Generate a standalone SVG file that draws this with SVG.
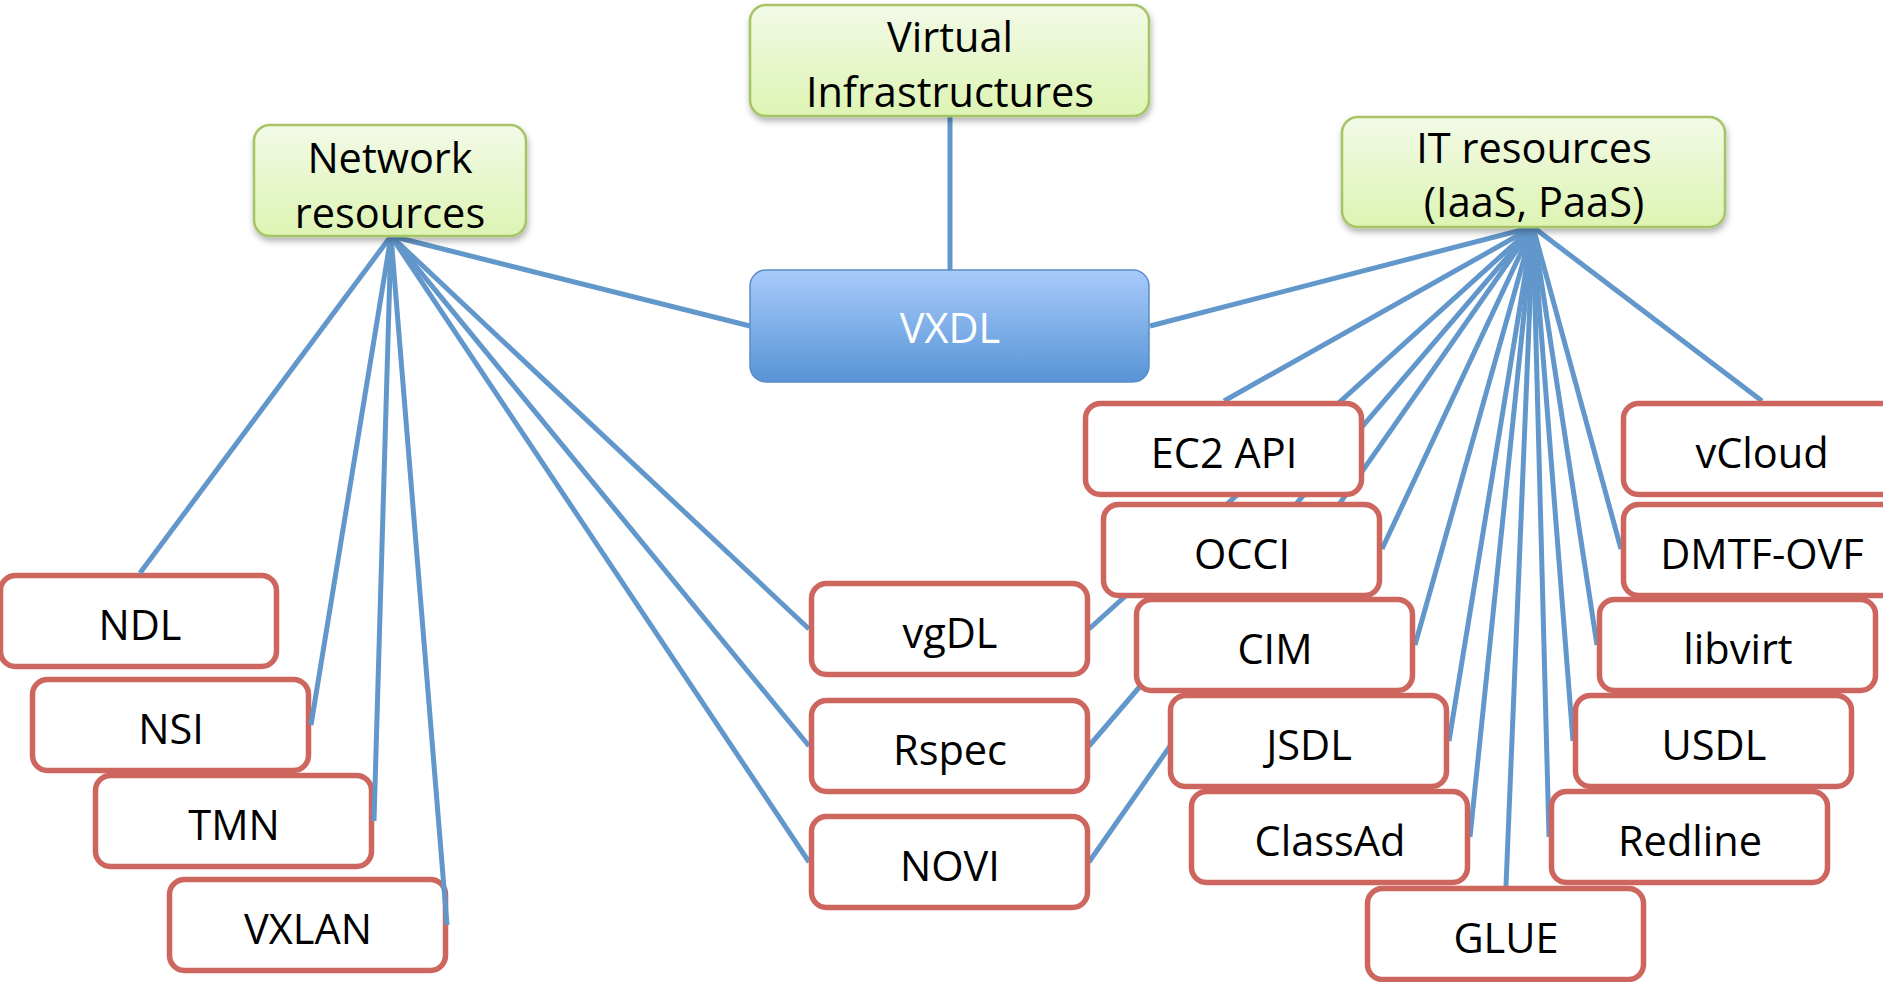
<svg xmlns="http://www.w3.org/2000/svg" width="1883" height="982" viewBox="0 0 1883 982">
  <defs>
    <linearGradient id="greenFill" x1="0" y1="0" x2="0" y2="1">
      <stop offset="0" stop-color="#f3fae7"/>
      <stop offset="1" stop-color="#ddf4b3"/>
    </linearGradient>
    <linearGradient id="blueFill" x1="0" y1="0" x2="0" y2="1">
      <stop offset="0" stop-color="#a8cbfb"/>
      <stop offset="1" stop-color="#5794d6"/>
    </linearGradient>
    <filter id="shadow" x="-10%" y="-10%" width="120%" height="140%">
      <feDropShadow dx="1" dy="4" stdDeviation="3" flood-color="#000" flood-opacity="0.3"/>
    </filter>
    <style>
      text { font-family: "Open Sans", "Noto Sans", "Liberation Sans", sans-serif; font-size: 41.5px; text-anchor: middle; fill: #000; }
      .hdr rect { fill: url(#greenFill); stroke: #a6c465; stroke-width: 2.5; filter: url(#shadow); }
      .core rect { fill: url(#blueFill); stroke: #5b8cc8; stroke-width: 1.5; }
      .core text { fill: #fff; }
      .std rect { fill: #fff; stroke: #cd665e; stroke-width: 5.5; }
      #connectors line { stroke: #6297cb; stroke-width: 5; fill: none; }
    </style>
  </defs>

  <!-- network description languages, left column -->
  <g id="ndl" class="std"><rect x="0.5" y="575.5" width="276" height="91" rx="15"/><text x="140" y="640">NDL</text></g>
  <g id="nsi" class="std"><rect x="32.5" y="679.5" width="276" height="91" rx="15"/><text x="171" y="744">NSI</text></g>
  <g id="tmn" class="std"><rect x="95.5" y="775.5" width="276" height="91" rx="15"/><text x="234" y="840">TMN</text></g>
  <g id="vxlan" class="std"><rect x="169.5" y="879.5" width="276" height="91" rx="15"/><text x="308" y="944">VXLAN</text></g>

  <g id="connectors">
    <!-- Network resources hub -->
    <line x1="391" y1="236" x2="140" y2="573"/>
    <line x1="391" y1="236" x2="311" y2="725"/>
    <line x1="391" y1="236" x2="374" y2="821"/>
    <line x1="391" y1="236" x2="447" y2="925"/>
    <line x1="391" y1="236" x2="809" y2="629"/>
    <line x1="391" y1="236" x2="809" y2="746"/>
    <line x1="391" y1="236" x2="809" y2="862"/>
    <line x1="391" y1="236" x2="750" y2="326"/>
    <!-- Virtual Infrastructures to VXDL -->
    <line x1="950" y1="116" x2="950" y2="270"/>
    <!-- IT resources hub -->
    <line x1="1533" y1="227" x2="1150" y2="326"/>
    <line x1="1533" y1="227" x2="1224" y2="401"/>
    <line x1="1533" y1="227" x2="1089" y2="629"/>
    <line x1="1533" y1="227" x2="1089" y2="746"/>
    <line x1="1533" y1="227" x2="1089" y2="862"/>
    <line x1="1533" y1="227" x2="1382" y2="549"/>
    <line x1="1533" y1="227" x2="1415" y2="645"/>
    <line x1="1533" y1="227" x2="1449" y2="741"/>
    <line x1="1533" y1="227" x2="1470" y2="837"/>
    <line x1="1533" y1="227" x2="1506" y2="886"/>
    <line x1="1533" y1="227" x2="1549" y2="837"/>
    <line x1="1533" y1="227" x2="1573" y2="741"/>
    <line x1="1533" y1="227" x2="1597" y2="645"/>
    <line x1="1533" y1="227" x2="1621" y2="549"/>
    <line x1="1533" y1="227" x2="1762" y2="401"/>
  </g>

  <!-- category headers -->
  <g id="virtual-infrastructures" class="hdr">
    <rect x="750" y="5" width="399" height="111" rx="16"/>
    <text x="950" y="52">Virtual</text>
    <text x="950" y="107">Infrastructures</text>
  </g>
  <g id="network-resources" class="hdr">
    <rect x="254" y="125" width="272" height="111" rx="16"/>
    <text x="390" y="173">Network</text>
    <text x="390" y="228">resources</text>
  </g>
  <g id="it-resources" class="hdr">
    <rect x="1342" y="117" width="383" height="110" rx="16"/>
    <text x="1534" y="163">IT resources</text>
    <text x="1534" y="217">(IaaS, PaaS)</text>
  </g>

  <!-- central language -->
  <g id="vxdl" class="core">
    <rect x="750" y="270" width="399" height="112" rx="16"/>
    <text x="950" y="343">VXDL</text>
  </g>

  <!-- languages shared by both domains -->
  <g id="vgdl" class="std"><rect x="811.5" y="583.5" width="276" height="91" rx="15"/><text x="950" y="648">vgDL</text></g>
  <g id="rspec" class="std"><rect x="811.5" y="700.5" width="276" height="91" rx="15"/><text x="950" y="765">Rspec</text></g>
  <g id="novi" class="std"><rect x="811.5" y="816.5" width="276" height="91" rx="15"/><text x="950" y="881">NOVI</text></g>

  <!-- IT resource description languages -->
  <g id="ec2-api" class="std"><rect x="1085.5" y="403.5" width="276" height="91" rx="15"/><text x="1224" y="468">EC2 API</text></g>
  <g id="occi" class="std"><rect x="1103.5" y="504.5" width="276" height="91" rx="15"/><text x="1242" y="569">OCCI</text></g>
  <g id="cim" class="std"><rect x="1136.5" y="599.5" width="276" height="91" rx="15"/><text x="1275" y="664">CIM</text></g>
  <g id="jsdl" class="std"><rect x="1170.5" y="695.5" width="276" height="91" rx="15"/><text x="1309" y="760">JSDL</text></g>
  <g id="classad" class="std"><rect x="1191.5" y="791.5" width="276" height="91" rx="15"/><text x="1330" y="856">ClassAd</text></g>
  <g id="vcloud" class="std"><rect x="1623.5" y="403.5" width="276" height="91" rx="15"/><text x="1762" y="468">vCloud</text></g>
  <g id="dmtf-ovf" class="std"><rect x="1623.5" y="504.5" width="276" height="91" rx="15"/><text x="1762" y="569">DMTF-OVF</text></g>
  <g id="libvirt" class="std"><rect x="1599.5" y="599.5" width="276" height="91" rx="15"/><text x="1738" y="664">libvirt</text></g>
  <g id="usdl" class="std"><rect x="1575.5" y="695.5" width="276" height="91" rx="15"/><text x="1714" y="760">USDL</text></g>
  <g id="redline" class="std"><rect x="1551.5" y="791.5" width="276" height="91" rx="15"/><text x="1690" y="856">Redline</text></g>
  <g id="glue" class="std"><rect x="1367.5" y="888.5" width="276" height="91" rx="15"/><text x="1506" y="953">GLUE</text></g>
</svg>
